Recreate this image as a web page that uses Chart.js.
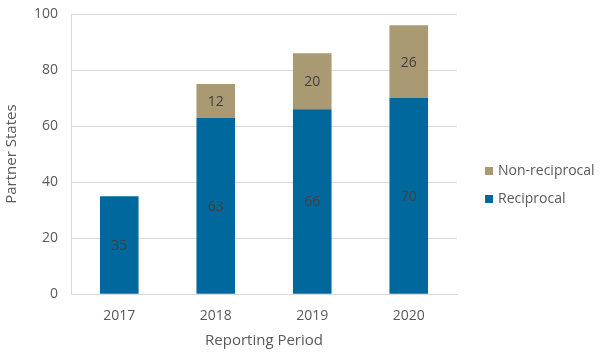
<!DOCTYPE html>
<html>
<head>
<meta charset="utf-8">
<script src="https://cdn.jsdelivr.net/npm/chart.js@4/dist/chart.umd.min.js"></script>
<style>
html,body{margin:0;padding:0;background:#fff;}
#wrap{width:600px;height:360px;}
</style>
</head>
<body>
<div id="wrap"><canvas id="c" width="600" height="360"></canvas></div>
<script>
const categories = ["2017", "2018", "2019", "2020"];
const reciprocal = [35, 63, 66, 70];
const nonReciprocal = [null, 12, 20, 26];
const yTicks = [0, 20, 40, 60, 80, 100];
const seriesNames = ["Reciprocal", "Non-reciprocal"];

const FONT = "'Open Sans', 'Noto Sans', sans-serif";

const labelPlugin = {
  id: 'segLabels',
  afterDatasetsDraw(chart) {
    const ctx = chart.ctx;
    ctx.save();
    ctx.font = "14px " + FONT;
    ctx.fillStyle = "#404040";
    ctx.textAlign = "center";
    ctx.textBaseline = "middle";
    chart.data.datasets.forEach((ds, i) => {
      const meta = chart.getDatasetMeta(i);
      meta.data.forEach((bar, j) => {
        const v = ds.data[j];
        if (v === null || v === undefined) return;
        const p = bar.getProps(['x', 'y', 'base'], true);
        ctx.fillText(String(v), p.x, (p.y + p.base) / 2 + 1);
      });
    });
    ctx.restore();
  }
};

const legendPlugin = {
  id: 'customLegend',
  afterDraw(chart) {
    const ctx = chart.ctx;
    ctx.save();
    ctx.font = "14px " + FONT;
    ctx.textBaseline = "middle";
    ctx.textAlign = "left";
    const ds = chart.data.datasets;
    const order = [1, 0];
    const ys = [171, 199];
    order.forEach((idx, k) => {
      ctx.fillStyle = ds[idx].backgroundColor;
      ctx.fillRect(485, ys[k] - 4, 8, 8);
      ctx.fillStyle = "#595959";
      ctx.fillText(ds[idx].label, 498, ys[k]);
    });
    ctx.restore();
  }
};

new Chart(document.getElementById('c'), {
  type: 'bar',
  data: {
    labels: categories,
    datasets: [
      { label: seriesNames[0], data: reciprocal, backgroundColor: "#00689C", barPercentage: 0.4, categoryPercentage: 1.0 },
      { label: seriesNames[1], data: nonReciprocal, backgroundColor: "#A99A74", barPercentage: 0.4, categoryPercentage: 1.0 }
    ]
  },
  options: {
    responsive: false,
    animation: false,
    layout: { padding: { left: 3, right: 143, top: 0, bottom: 10 } },
    plugins: { legend: { display: false }, tooltip: { enabled: false } },
    scales: {
      x: {
        stacked: true,
        grid: { display: false, drawTicks: false },
        border: { display: true, color: "#d9d9d9" },
        ticks: { color: "#595959", font: { family: FONT, size: 14 }, padding: 13 },
        title: { display: true, text: "Reporting Period", color: "#595959", font: { family: FONT, size: 15 }, padding: { top: -5, bottom: 0 } }
      },
      y: {
        stacked: true,
        min: 0, max: 100,
        afterBuildTicks: (axis) => { axis.ticks = yTicks.map(v => ({ value: v })); },
        afterFit: (axis) => { axis.paddingTop = 14; },
        grid: { color: "#d9d9d9", drawTicks: false },
        border: { display: true, color: "#d9d9d9" },
        ticks: { color: "#595959", font: { family: FONT, size: 14 }, padding: 13 },
        title: { display: true, text: "Partner States", color: "#595959", font: { family: FONT, size: 15 }, padding: { top: 0, bottom: 0 } }
      }
    }
  },
  plugins: [labelPlugin, legendPlugin]
});
</script>
</body>
</html>
